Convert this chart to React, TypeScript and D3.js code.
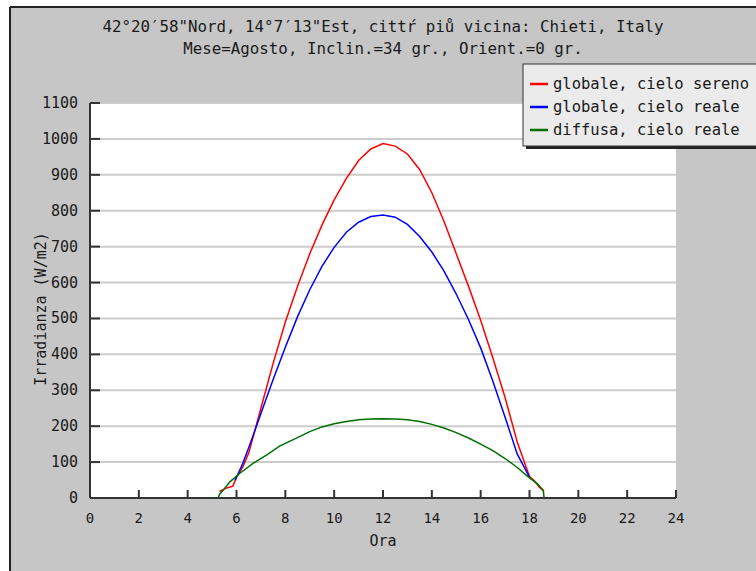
import React from "react";
import * as d3 from "d3";

const titleLines = [
  "42°20′58\"Nord, 14°7′13\"Est, cittŕ piů vicina: Chieti, Italy",
  "Mese=Agosto, Inclin.=34 gr., Orient.=0 gr.",
];
const xLabel = "Ora";
const yLabel = "Irradianza (W/m2)";
const xTicks = [0, 2, 4, 6, 8, 10, 12, 14, 16, 18, 20, 22, 24];
const yTicks = [0, 100, 200, 300, 400, 500, 600, 700, 800, 900, 1000, 1100];

const seriesNames = ["globale, cielo sereno", "globale, cielo reale", "diffusa, cielo reale"];
const seriesColors = ["#ff0000", "#0000ff", "#006e00"];

const redHours = [5.3, 5.6, 5.85, 6.0, 6.25, 6.5, 7.0, 7.5, 8.0, 8.5, 9.0, 9.5, 10.0, 10.5, 11.0, 11.5, 12.0, 12.5, 13.0, 13.5, 14.0, 14.5, 15.0, 15.5, 16.0, 16.5, 17.0, 17.5, 18.0, 18.2, 18.4, 18.6];
const redValues = [18, 28, 33, 58, 85, 125, 250, 375, 490, 590, 680, 760, 830, 890, 940, 972, 987, 980, 958, 915, 850, 770, 680, 590, 495, 390, 280, 155, 60, 48, 30, 18];

const blueHours = [5.95, 6.25, 6.5, 7.0, 7.5, 8.0, 8.5, 9.0, 9.5, 10.0, 10.5, 11.0, 11.5, 12.0, 12.5, 13.0, 13.5, 14.0, 14.5, 15.0, 15.5, 16.0, 16.5, 17.0, 17.5, 18.0];
const blueValues = [50, 95, 140, 235, 330, 420, 505, 580, 645, 698, 740, 768, 784, 788, 782, 762, 728, 685, 632, 568, 497, 418, 325, 225, 122, 58];

const greenHours = [5.25, 5.3, 5.46, 5.73, 6.14, 6.69, 7.24, 7.78, 8.5, 9.0, 9.5, 10.0, 10.5, 11.0, 11.5, 12.0, 12.5, 13.0, 13.5, 14.0, 14.5, 15.0, 15.5, 16.0, 16.5, 17.0, 17.5, 17.95, 18.3, 18.56, 18.6];
const greenValues = [0, 10, 22, 45, 69, 97, 120, 145, 168, 185, 198, 207, 213, 218, 220, 221, 220, 218, 213, 205, 195, 182, 167, 150, 132, 110, 85, 59, 41, 22, 0];

export default function App() {
  const W = 756, H = 571;
  const left = 90, right = 676, top = 103, bottom = 498;
  const x = d3.scaleLinear().domain([0, 24]).range([left, right]);
  const y = d3.scaleLinear().domain([0, 1100]).range([bottom, top]);
  const line = d3.line<[number, number]>().x(d => x(d[0])).y(d => y(d[1]));
  const series = [
    redHours.map((h, i) => [h, redValues[i]] as [number, number]),
    blueHours.map((h, i) => [h, blueValues[i]] as [number, number]),
    greenHours.map((h, i) => [h, greenValues[i]] as [number, number]),
  ];
  const font = "'DejaVu Sans Mono', monospace";
  const textColor = "#1a1a1a";
  const legX = 523, legY = 64, legW = 240, legH = 82;
  return (
    <svg width={W} height={H} style={{ position: "absolute", left: 0, top: 0 }} fontFamily={font}>
      <rect x={0} y={0} width={W} height={H} fill="#ffffff" />
      <rect x={10} y={7} width={W} height={H} fill="#c6c6c6" />
      <line x1={10} y1={7} x2={W} y2={7} stroke="#222" strokeWidth={2} />
      <line x1={10} y1={7} x2={10} y2={H} stroke="#222" strokeWidth={2} />
      {titleLines.map((t, i) => (
        <text key={i} x={(left + right) / 2} y={32 + i * 22} textAnchor="middle" fontSize={15.8} fill={textColor}>{t}</text>
      ))}
      <rect x={left} y={top} width={right - left} height={bottom - top} fill="#ffffff" />
      {yTicks.filter(v => v > 0).map(v => (
        <line key={v} x1={left} x2={right} y1={y(v)} y2={y(v)} stroke="#cccccc" strokeWidth={2} />
      ))}
      {yTicks.map(v => (
        <g key={v}>
          <line x1={left} x2={left + 10} y1={y(v)} y2={y(v)} stroke="#333" strokeWidth={2} />
          <text x={78} y={y(v) + 5} textAnchor="end" fontSize={15} fill={textColor}>{v}</text>
        </g>
      ))}
      {xTicks.map(v => (
        <g key={v}>
          <line x1={x(v)} x2={x(v)} y1={bottom} y2={bottom - 8} stroke="#333" strokeWidth={2} />
          <text x={x(v)} y={523} textAnchor="middle" fontSize={14} fill={textColor}>{v}</text>
        </g>
      ))}
      {series.map((s, i) => (
        <path key={i} d={line(s) || ""} fill="none" stroke={seriesColors[i]} strokeWidth={1.5} />
      ))}
      <line x1={left} x2={left} y1={top} y2={bottom} stroke="#333" strokeWidth={2} />
      <line x1={left} x2={right} y1={bottom} y2={bottom} stroke="#333" strokeWidth={2} />
      <text x={(left + right) / 2} y={546} textAnchor="middle" fontSize={15} fill={textColor}>{xLabel}</text>
      <text transform={`translate(46, 309) rotate(-90)`} textAnchor="middle" fontSize={15} fill={textColor}>{yLabel}</text>
      <rect x={legX + 3} y={legY + 3} width={legW} height={legH} fill="#222" />
      <rect x={legX} y={legY} width={legW} height={legH} fill="#ebebeb" stroke="#333" strokeWidth={1} />
      {seriesNames.map((n, i) => (
        <g key={n}>
          <line x1={530} x2={548} y1={84 + i * 23} y2={84 + i * 23} stroke={seriesColors[i]} strokeWidth={2.5} />
          <text x={553} y={89 + i * 23} fontSize={15.5} fill={textColor}>{n}</text>
        </g>
      ))}
    </svg>
  );
}
